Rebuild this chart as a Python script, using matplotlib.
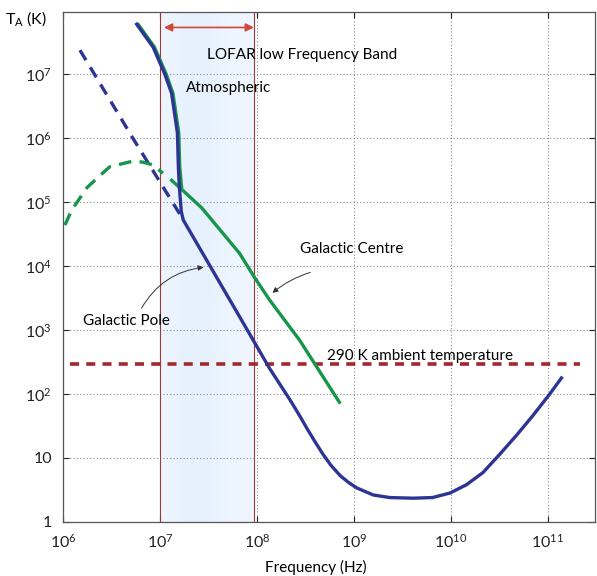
import numpy as np
import matplotlib
matplotlib.use("Agg")
import matplotlib.pyplot as plt
import matplotlib.transforms as mtransforms

plt.rcParams['font.family'] = ['Lato', 'DejaVu Sans']
plt.rcParams['mathtext.fontset'] = 'custom'
plt.rcParams['mathtext.rm'] = 'Lato'
plt.rcParams['mathtext.it'] = 'Lato:italic'

# values, as log10(frequency / Hz) and log10(T / K)
atm_logf = [6.76, 6.93, 7.05, 7.12, 7.18, 7.19, 7.21]
atm_logt = [7.78, 7.42, 7.00, 6.70, 6.08, 5.55, 5.22]

pole_logf = [6.76, 6.93, 7.05, 7.12, 7.18, 7.19, 7.20, 7.22, 7.24, 7.72, 7.82, 8.13,
             8.34, 8.44, 8.52, 8.60, 8.68, 8.76, 8.86, 8.95, 9.03, 9.20, 9.37, 9.61, 9.81, 9.99,
             10.16, 10.33, 10.50, 10.68, 10.85, 11.02, 11.14]
pole_logt = [7.78, 7.42, 7.00, 6.70, 6.08, 5.55, 5.23, 4.85, 4.72, 3.47, 3.21, 2.40,
             1.91, 1.66, 1.45, 1.25, 1.06, 0.89, 0.72, 0.61, 0.53, 0.42, 0.38, 0.37, 0.38, 0.45,
             0.58, 0.77, 1.05, 1.36, 1.67, 2.00, 2.25]

pole_low_logf = [6.175, 6.72, 7.23]
pole_low_logt = [7.375, 6.00, 4.75]

centre_logf = [7.12, 7.23, 7.43, 7.82, 7.98, 8.13, 8.44, 8.85]
centre_logt = [5.34, 5.19, 4.91, 4.20, 3.81, 3.47, 2.84, 1.87]

centre_low_logf = [6.02, 6.09, 6.25, 6.48, 6.72, 6.82, 6.93, 7.03]
centre_low_logt = [4.64, 4.875, 5.23, 5.55, 5.64, 5.625, 5.58, 5.45]

ambient_temp = 290.0
ambient_logf = [6.07, 11.33]

band_lo, band_hi = 1e7, 9.3e7

x_ticks = [1e6, 1e7, 1e8, 1e9, 1e10, 1e11]
x_labels = [r'$\mathregular{10^{6}}$', r'$\mathregular{10^{7}}$', r'$\mathregular{10^{8}}$',
            r'$\mathregular{10^{9}}$', r'$\mathregular{10^{10}}$', r'$\mathregular{10^{11}}$']
y_ticks = [1, 10, 1e2, 1e3, 1e4, 1e5, 1e6, 1e7]
y_labels = ['1', '10', r'$\mathregular{10^{2}}$', r'$\mathregular{10^{3}}$', r'$\mathregular{10^{4}}$',
            r'$\mathregular{10^{5}}$', r'$\mathregular{10^{6}}$', r'$\mathregular{10^{7}}$']

blue = '#2c3593'
green = '#17964a'
red = '#a3282b'

fig = plt.figure(figsize=(5.97, 5.76), dpi=100)
ax = fig.add_axes([0.1055, 0.094, 0.891, 0.885])
ax.set_xscale('log')
ax.set_yscale('log')
ax.set_xlim(1e6, 10**11.485)
ax.set_ylim(1, 10**7.97)

# LOFAR band shading, a touch darker in the middle
edges = np.linspace(np.log10(band_lo), np.log10(band_hi), 31)
mid = 0.5 * (edges[0] + edges[-1]) - 0.1
for a, b in zip(edges[:-1], edges[1:]):
    c = 0.5 * (a + b)
    w = np.exp(-((c - mid) / 0.28) ** 2)
    col = (0.935 - 0.035 * w, 0.963 - 0.02 * w, 0.995)
    ax.axvspan(10**a, 10**b, color=col, lw=0, zorder=0)
for xb in (band_lo, band_hi):
    ax.axvline(xb, color='#9b3a36', lw=0.8, zorder=1)

ax.grid(True, which='major', linestyle=(0, (1, 2)), color='#888888', lw=0.8)
ax.set_axisbelow(True)

# red ambient line
ax.plot(10**np.array(ambient_logf), [ambient_temp, ambient_temp], color=red, lw=2.6,
        linestyle=(0, (2.5, 2)), zorder=3)

# dashed low-frequency extensions
ax.plot(10**np.array(pole_low_logf), 10**np.array(pole_low_logt), color=blue, lw=2.4,
        linestyle=(0, (3.5, 2.5)), zorder=3)
ax.plot(10**np.array(centre_low_logf), 10**np.array(centre_low_logt), color=green, lw=2.4,
        linestyle=(0, (3.8, 2.5)), zorder=3)

# galactic centre + atmospheric (green), shifted a hair so both colours show
shift = mtransforms.offset_copy(ax.transData, fig=fig, x=1.2, y=0, units='dots')
ax.plot(10**np.array(atm_logf), 10**np.array(atm_logt), color=green, lw=2.6,
        transform=shift, zorder=4, solid_capstyle='round')
ax.plot(10**np.array(centre_logf), 10**np.array(centre_logt), color=green, lw=2.4, zorder=4)
ax.plot(10**np.array(pole_logf), 10**np.array(pole_logt), color=blue, lw=2.4, zorder=5,
        solid_joinstyle='round')

# labels
ax.annotate('', xy=(band_lo * 1.1, 10**7.73), xytext=(band_hi, 10**7.73),
            arrowprops=dict(arrowstyle='<|-|>', color='#d2453a', lw=1.2,
                            mutation_scale=12, shrinkA=0, shrinkB=0))
ax.text(10**7.49, 10**7.3, 'LOFAR low Frequency Band', fontsize=11, va='center')
ax.text(10**7.27, 10**6.78, 'Atmospheric', fontsize=11, va='center')
ax.text(10**8.44, 10**4.27, 'Galactic Centre', fontsize=11, va='center')
ax.text(10**6.21, 10**3.14, 'Galactic Pole', fontsize=11, va='center')
ax.text(10**8.72, 10**2.6, '290 K ambient temperature', fontsize=11, va='center')

ax.annotate('', xy=(10**8.16, 10**3.58), xytext=(10**8.55, 10**3.9),
            arrowprops=dict(arrowstyle='-|>', color='#333333', lw=0.7,
                            connectionstyle='arc3,rad=0.1', mutation_scale=8,
                            shrinkA=0, shrinkB=0))
ax.annotate('', xy=(10**7.45, 10**3.98), xytext=(10**6.81, 10**3.34),
            arrowprops=dict(arrowstyle='-|>', color='#333333', lw=0.7,
                            connectionstyle='arc3,rad=-0.25', mutation_scale=8,
                            shrinkA=0, shrinkB=0))

ax.set_xticks(x_ticks)
ax.set_xticklabels(x_labels)
ax.set_yticks(y_ticks)
ax.set_yticklabels(y_labels)
ax.minorticks_off()
ax.tick_params(direction='in', length=4, width=0.8, top=True, right=True,
               labelsize=11.5, colors='#222222', pad=8)
for s in ax.spines.values():
    s.set_color('#555555')
    s.set_linewidth(0.9)

ax.set_xlabel('Frequency (Hz)', fontsize=11, labelpad=8)
ax.xaxis.set_label_coords(0.476, -0.075)
fig.text(0.008, 0.968, r'$\mathregular{T_A}$ (K)', fontsize=11.5, va='center', ha='left')

fig.savefig('out.png', dpi=100)
